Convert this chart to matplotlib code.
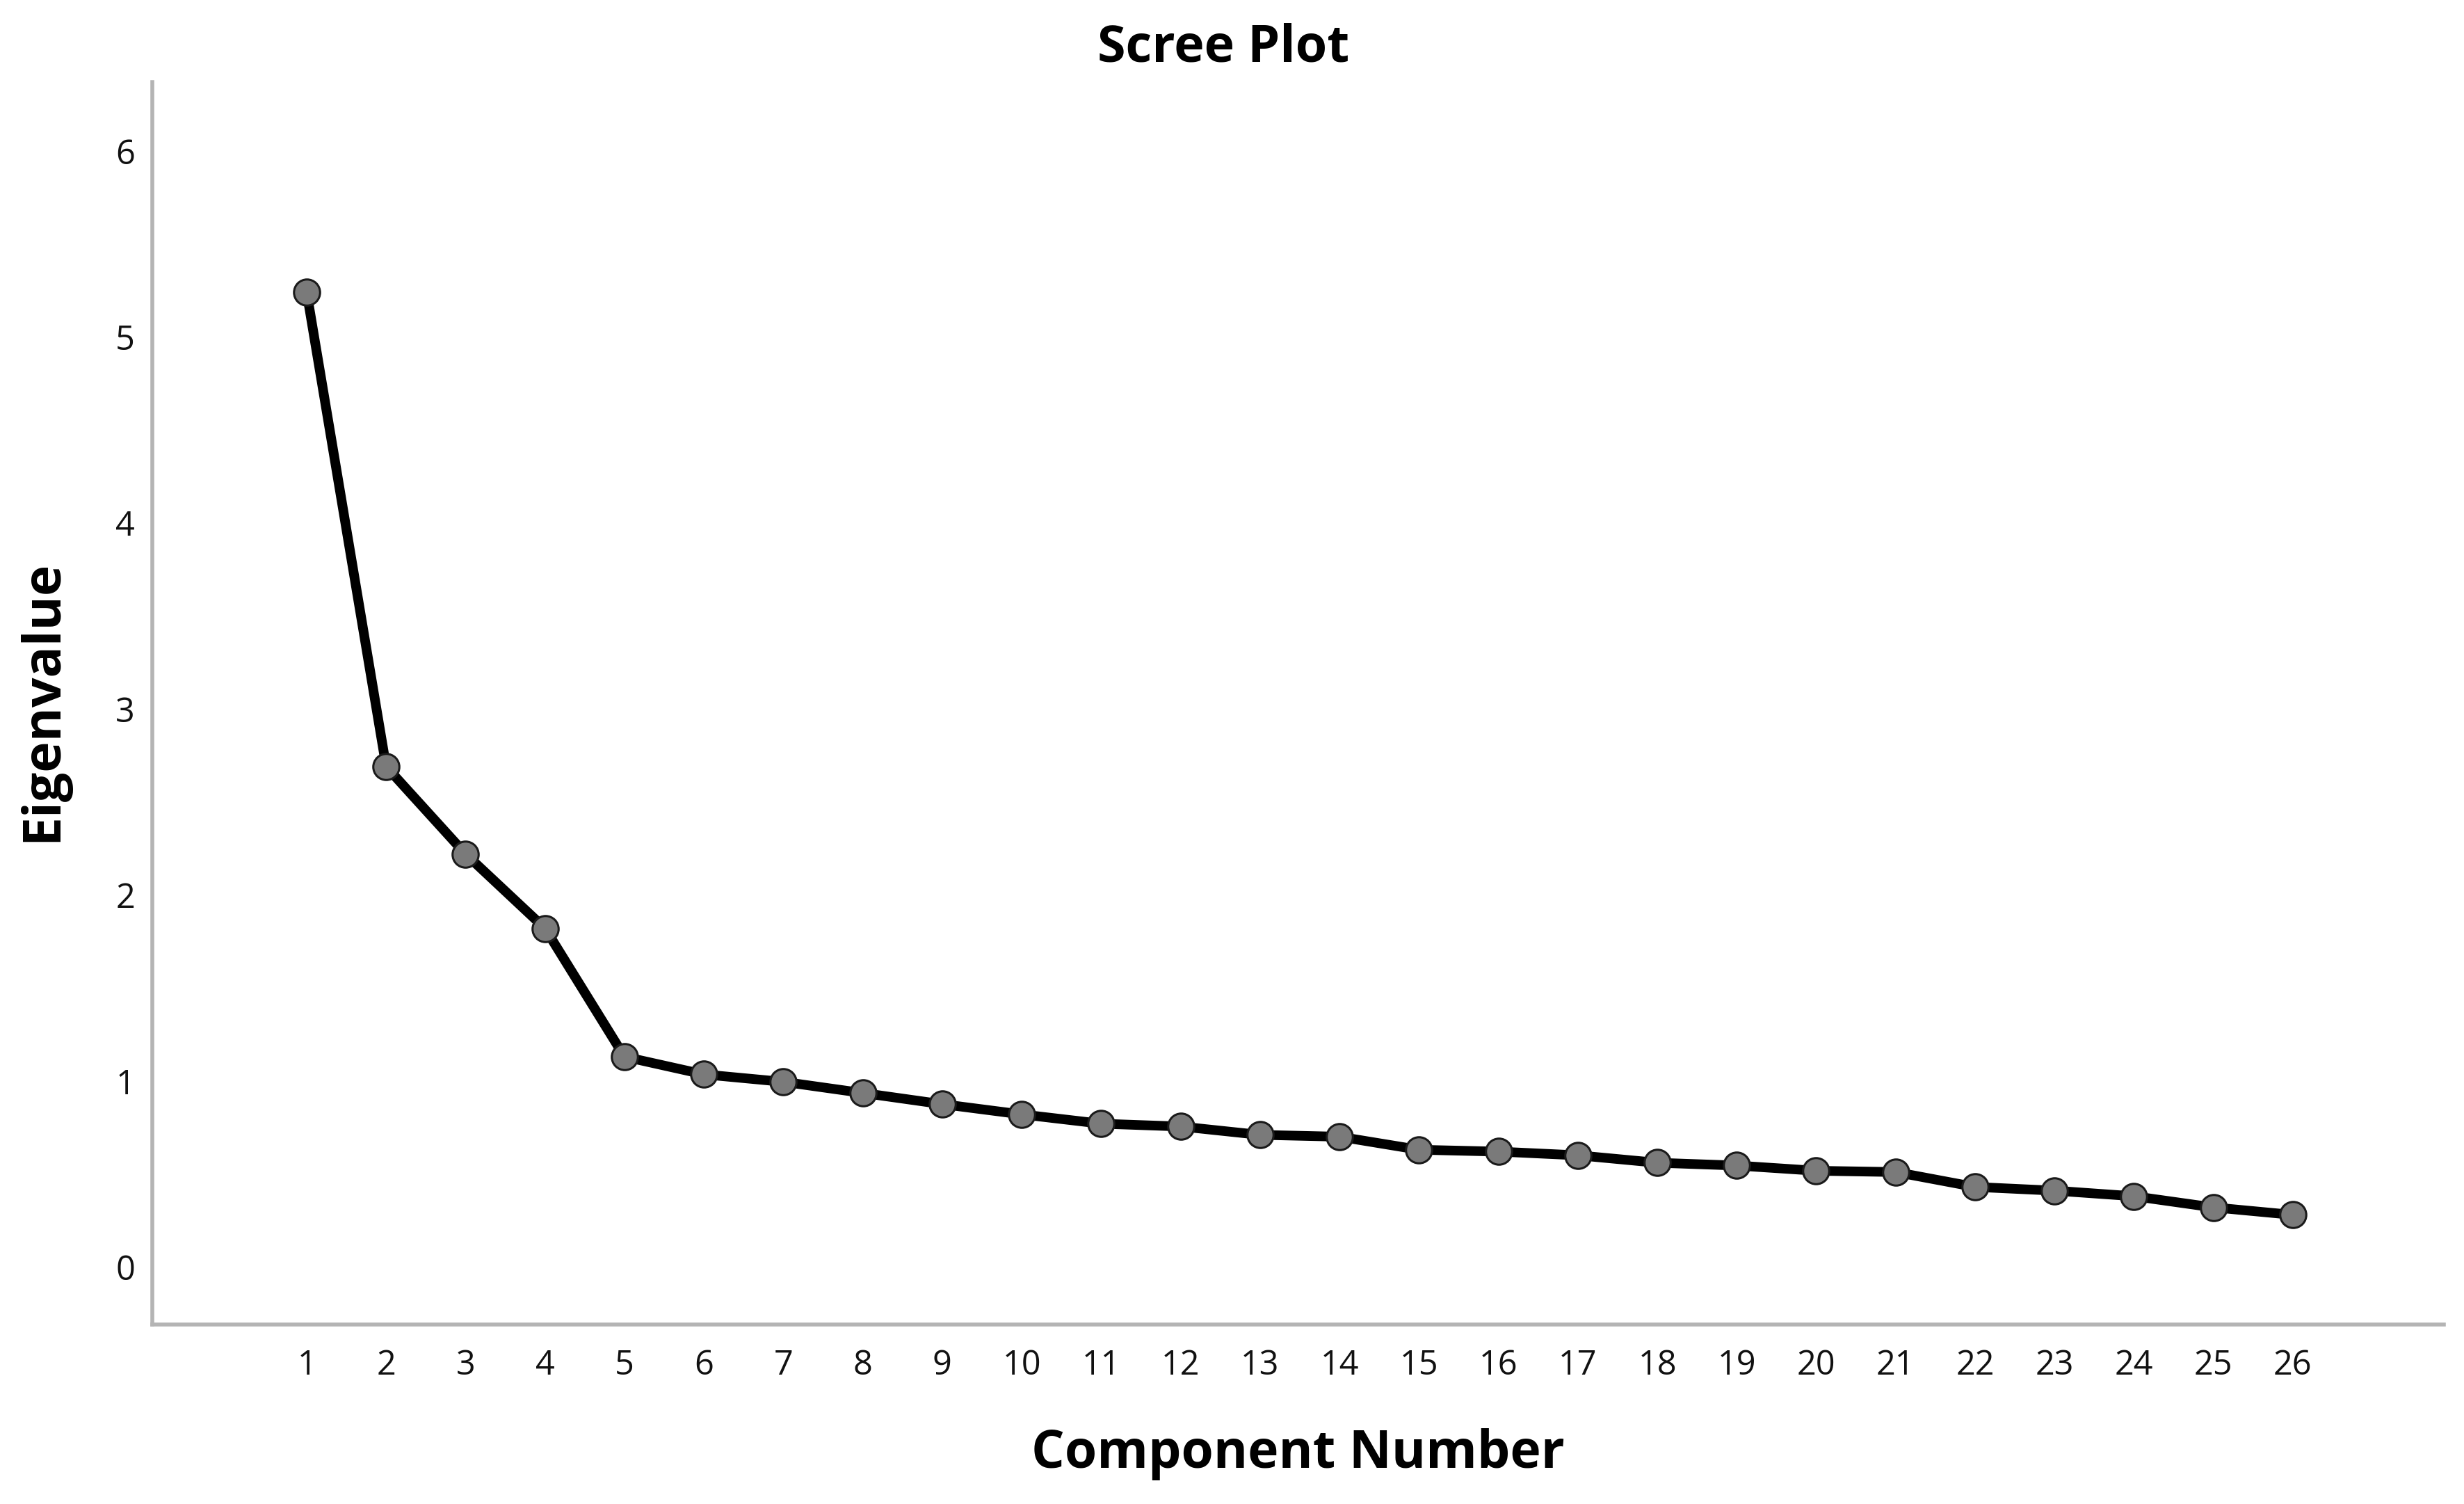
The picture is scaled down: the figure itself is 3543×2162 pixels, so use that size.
import matplotlib
matplotlib.use('Agg')
import numpy as np
from matplotlib import pyplot as plt

# valeurs
components = list(range(1, 27))
eigenvalues = [5.24, 2.69, 2.22, 1.82, 1.13, 1.035, 0.995, 0.935, 0.875, 0.82,
               0.77, 0.755, 0.71, 0.70, 0.63, 0.62, 0.60, 0.56, 0.545, 0.517,
               0.51, 0.43, 0.41, 0.38, 0.32, 0.28]
y_ticks = [0, 1, 2, 3, 4, 5, 6]

label_font = ['Open Sans', 'DejaVu Sans']
tick_font = ['Liberation Sans Narrow', 'Open Sans', 'DejaVu Sans']

fig = plt.figure(figsize=(35.43, 21.62), dpi=100)
ax = fig.add_axes([0.0618, 0.1193, 0.930, 0.8261])

ax.plot(components, eigenvalues, color='black', linewidth=10, zorder=2)
ax.plot(components, eigenvalues, linestyle='none', marker='o', markersize=27,
        markerfacecolor='#7a7a7a', markeredgecolor='#1a1a1a', markeredgewidth=2.2, zorder=3)

ax.set_xlim(-0.944, 27.9)
ax.set_ylim(-0.31, 6.37)
ax.set_xticks(components)
ax.set_yticks(y_ticks)
ax.tick_params(length=0, labelsize=35, labelcolor='#111111')
ax.tick_params(axis='y', pad=18)
ax.tick_params(axis='x', pad=25)
for lab in ax.get_xticklabels() + ax.get_yticklabels():
    lab.set_family(tick_font)

for side in ['top', 'right']:
    ax.spines[side].set_visible(False)
for side in ['left', 'bottom']:
    ax.spines[side].set_color('#b4b4b4')
    ax.spines[side].set_linewidth(4)

fig.text(0.4965, 0.959, 'Scree Plot', ha='center', va='baseline',
         fontsize=53, fontweight='bold', family=label_font)
fig.text(0.5267, 0.024, 'Component Number', ha='center', va='baseline',
         fontsize=54, fontweight='bold', family=label_font)
fig.text(0.0175, 0.534, 'Eigenvalue', ha='center', va='center', rotation=90,
         fontsize=54, fontweight='bold', family=label_font)

fig.savefig('out.png', dpi=100)
